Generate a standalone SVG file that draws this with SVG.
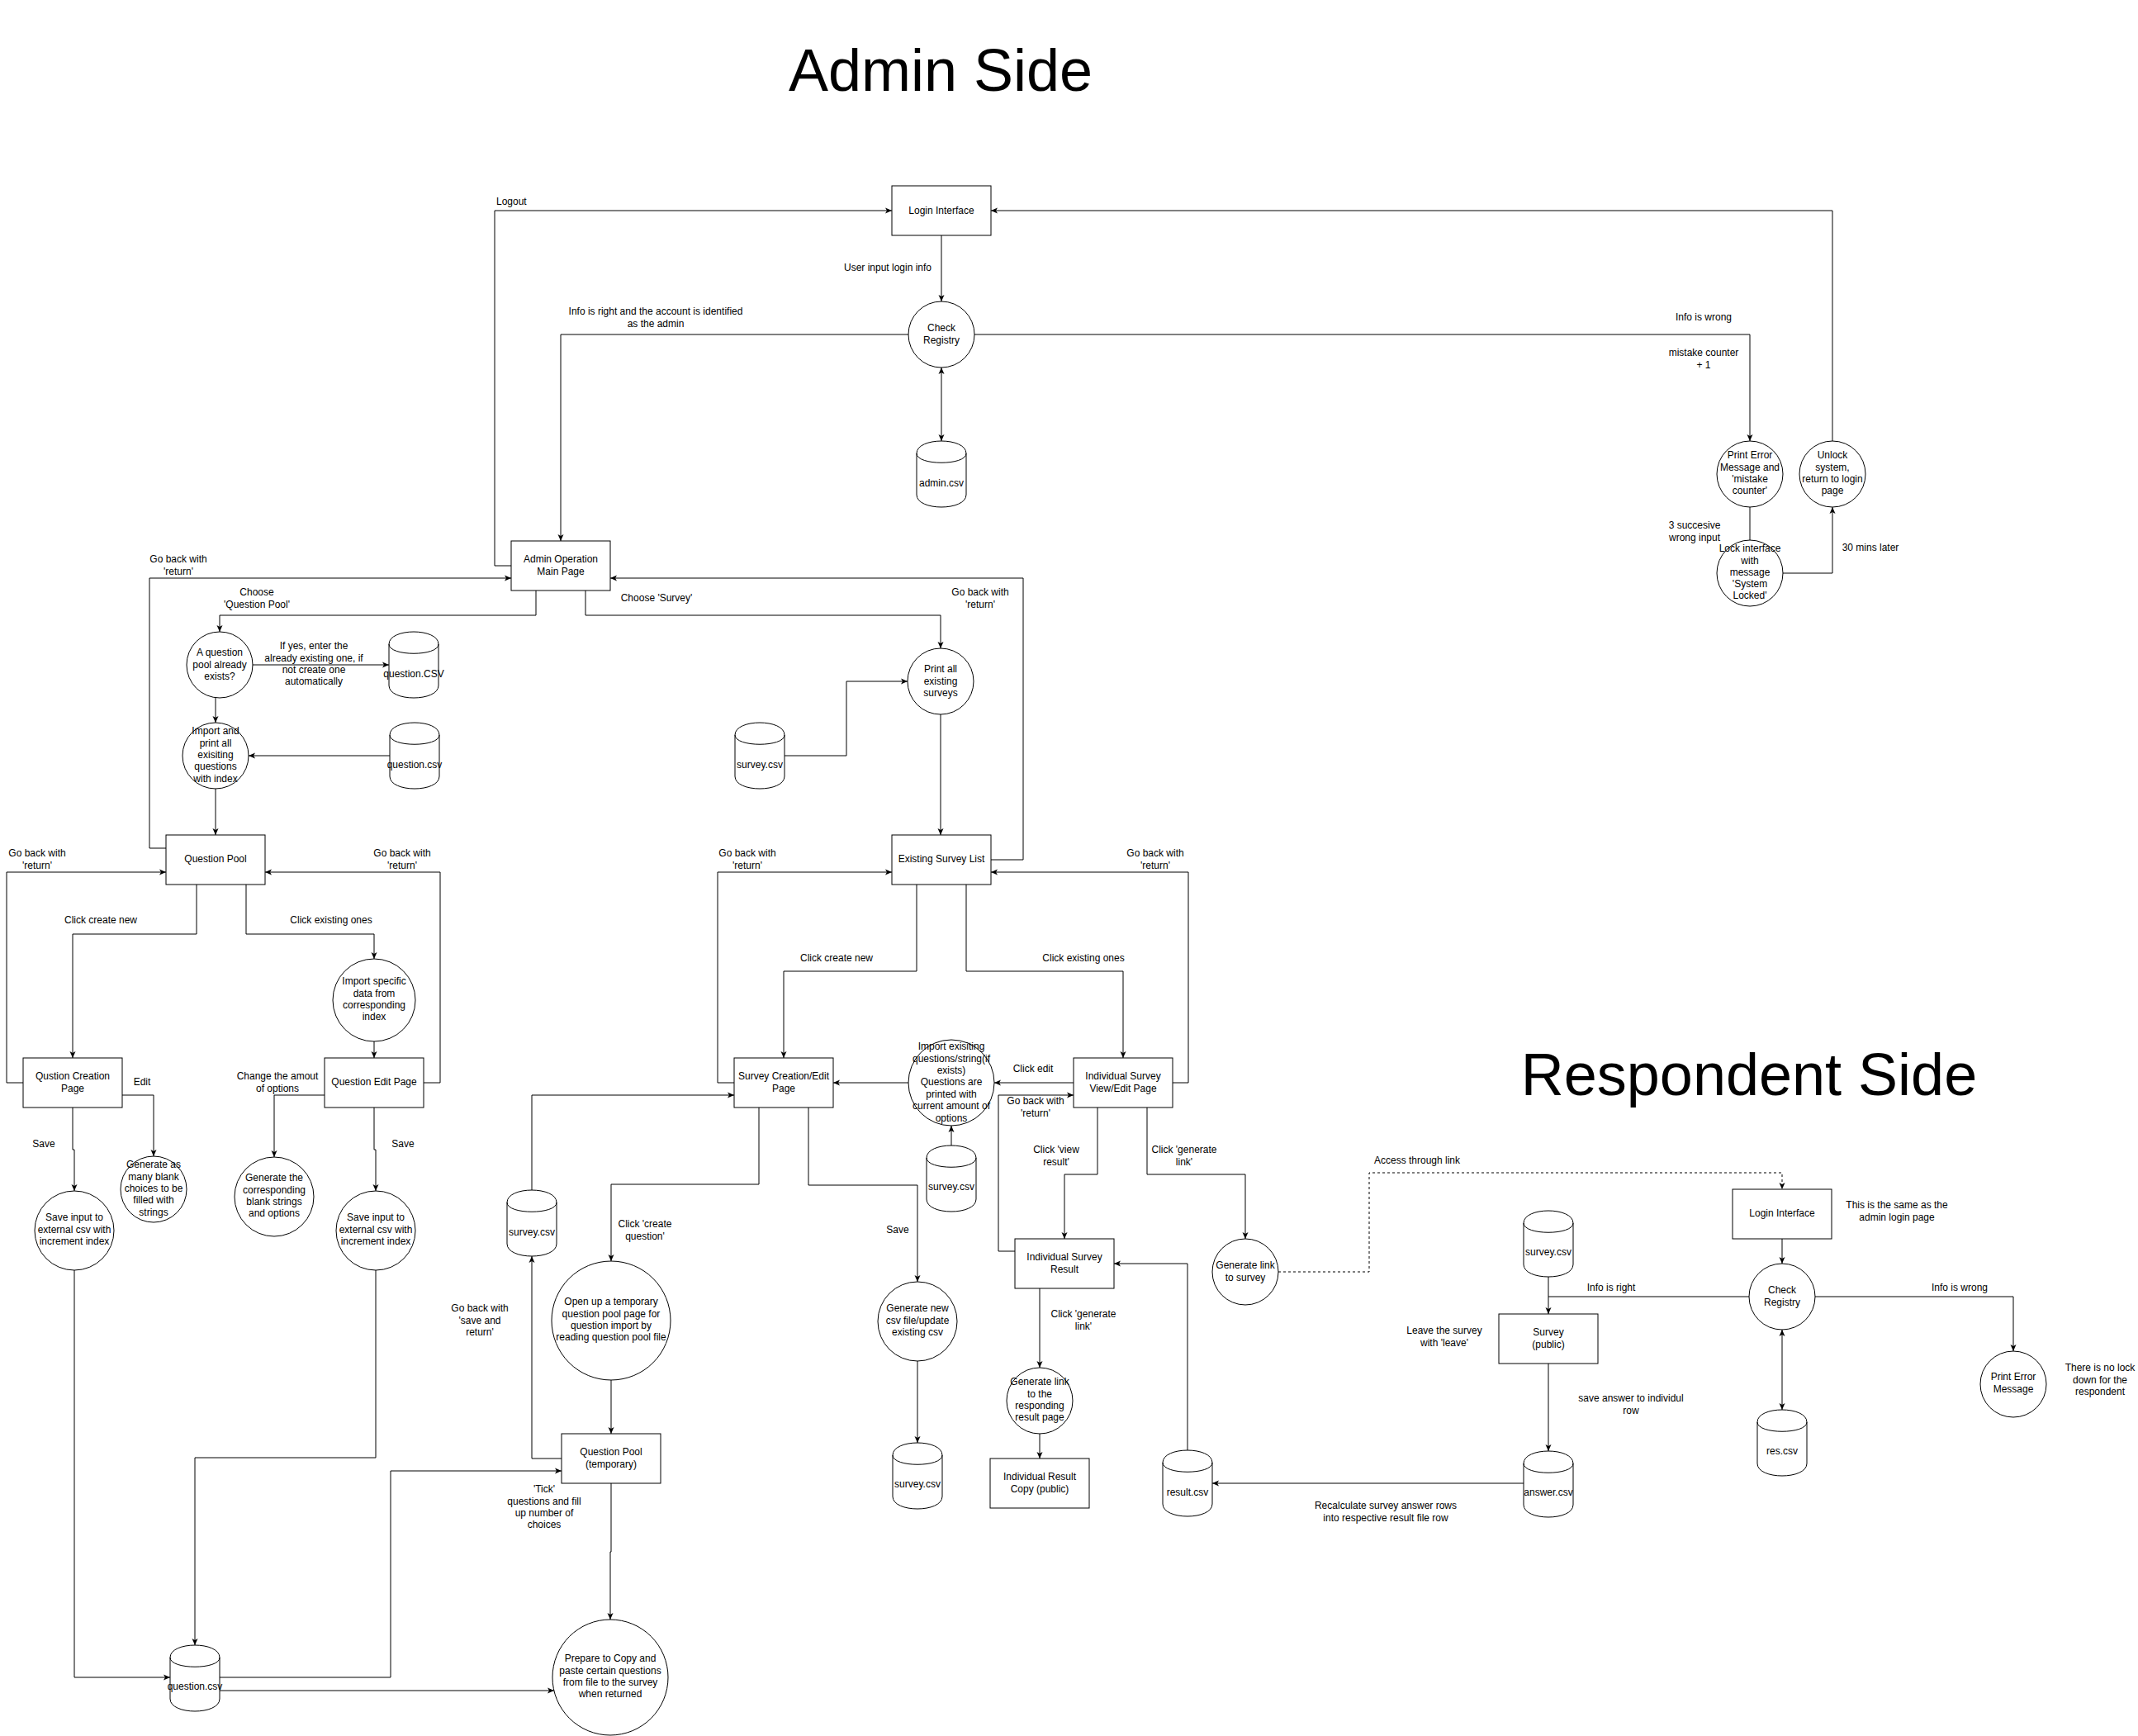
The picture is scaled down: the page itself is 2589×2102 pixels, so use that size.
<svg xmlns="http://www.w3.org/2000/svg" width="2589" height="2102" viewBox="0 0 2589 2102">
<style>
.n{fill:#fff;stroke:#000;stroke-width:1}
.e{fill:none;stroke:#000;stroke-width:1;marker-end:url(#a)}
.l{fill:none;stroke:#000;stroke-width:1}
.d{fill:none;stroke:#000;stroke-width:1;stroke-dasharray:3,3;marker-end:url(#a)}
.b{marker-start:url(#a)}
text{font-family:"Liberation Sans",Arial,sans-serif;font-size:12px;fill:#000;text-anchor:middle}
.t{font-size:72px}
.s{text-anchor:start}
</style>
<defs>
<marker id="a" viewBox="0 0 8 8" refX="8" refY="4" markerWidth="8" markerHeight="8" markerUnits="userSpaceOnUse" orient="auto-start-reverse"><path d="M0,0.5 L8,4 L0,7.5 L2,4 Z" fill="#000"/></marker>
</defs>
<rect width="2589" height="2102" fill="#fff"/>
<text class="t" x="1139" y="110">Admin Side</text>
<text class="t" x="2118" y="1326">Respondent Side</text>

<g id="connectors">
<path class="e" d="M1140,285 V365"/>
<path class="e b" d="M1140,445 V534"/>
<path class="e" d="M1100,405 H679 V655"/>
<path class="e" d="M619,685 H599 V255 H1080"/>
<path class="e" d="M1180,405 H2119 V534"/>
<path class="l" d="M2119,614 V654"/>
<path class="e" d="M2159,694 H2219 V614"/>
<path class="e" d="M2219,534 V255 H1200"/>
<path class="e" d="M201,1027 H181 V700 H619"/>
<path class="e" d="M649,715 V745 H266 V765"/>
<path class="e" d="M709,715 V745 H1139 V785"/>
<path class="e" d="M1200,1041 H1239 V700 H739"/>
<path class="e" d="M306,805 H471"/>
<path class="e" d="M261,845 V875"/>
<path class="e" d="M472,915 H301"/>
<path class="e" d="M261,955 V1011"/>
<path class="e" d="M28,1311 H8 V1056 H201"/>
<path class="e" d="M513,1311 H533 V1056 H321"/>
<path class="e" d="M238,1071 V1131 H88 V1281"/>
<path class="e" d="M298,1071 V1131 H453 V1161"/>
<path class="e" d="M453,1261 V1281"/>
<path class="e" d="M148,1326 H186 V1400"/>
<path class="e" d="M88,1341 V1392 H90 V1442"/>
<path class="e" d="M393,1326 H332 V1401"/>
<path class="e" d="M453,1341 V1392 H455 V1442"/>
<path class="e" d="M90,1538 V2031 H206"/>
<path class="e" d="M455,1538 V1765 H236 V1992"/>
<path class="e" d="M266,2031 H473 V1781 H680"/>
<path class="e" d="M266,2047 H671"/>
<path class="e" d="M680,1766 H644 V1521"/>
<path class="e" d="M644,1441 V1326 H889"/>
<path class="e" d="M740,1796 V1879 H739 V1961"/>
<path class="e" d="M740,1671 V1736"/>
<path class="e" d="M919,1341 V1434 H740 V1527"/>
<path class="e" d="M979,1341 V1435 H1111 V1552"/>
<path class="e" d="M1111,1648 V1747"/>
<path class="e" d="M1139,865 V1011"/>
<path class="e" d="M950,915 H1025 V825 H1099"/>
<path class="e" d="M889,1311 H869 V1056 H1080"/>
<path class="e" d="M1110,1071 V1176 H949 V1281"/>
<path class="e" d="M1170,1071 V1176 H1360 V1281"/>
<path class="e" d="M1420,1311 H1439 V1056 H1200"/>
<path class="e" d="M1300,1311 H1204"/>
<path class="e" d="M1100,1311 H1009"/>
<path class="e" d="M1152,1387 V1363"/>
<path class="e" d="M1229,1515 H1209 V1326 H1300"/>
<path class="e" d="M1329,1341 V1422 H1289 V1500"/>
<path class="e" d="M1389,1341 V1422 H1508 V1500"/>
<path class="e" d="M1259,1560 V1656"/>
<path class="e" d="M1259,1736 V1766"/>
<path class="e" d="M1438,1756 V1530 H1349"/>
<path class="e" d="M1845,1796 H1468"/>
<path class="d" d="M1548,1540 H1658 V1420 H2158 V1440"/>
<path class="e" d="M2158,1500 V1530"/>
<path class="e b" d="M2158,1610 V1707"/>
<path class="e" d="M2118,1570 H1875 V1591"/>
<path class="l" d="M1875,1546 V1570"/>
<path class="e" d="M1875,1651 V1757"/>
<path class="e" d="M2198,1570 H2438 V1636"/>
</g>

<g id="edge-labels">
<text class="s" x="601" y="248">Logout</text>
<text x="1075" y="328">User input login info</text>
<text x="794" y="381">Info is right and the account is identified</text>
<text x="794" y="396">as the admin</text>
<text x="2063" y="388">Info is wrong</text>
<text x="2063" y="431">mistake counter</text>
<text x="2063" y="446">+ 1</text>
<text x="2052" y="640">3 succesive</text>
<text x="2052" y="655">wrong input</text>
<text x="2265" y="667">30 mins later</text>
<text x="216" y="681">Go back with</text>
<text x="216" y="696">'return'</text>
<text x="311" y="721">Choose</text>
<text x="311" y="736">'Question Pool'</text>
<text x="795" y="728">Choose 'Survey'</text>
<text x="1187" y="721">Go back with</text>
<text x="1187" y="736">'return'</text>
<text x="380" y="786">If yes, enter the</text>
<text x="380" y="801">already existing one, if</text>
<text x="380" y="815">not create one</text>
<text x="380" y="829">automatically</text>
<text x="45" y="1037">Go back with</text>
<text x="45" y="1052">'return'</text>
<text x="487" y="1037">Go back with</text>
<text x="487" y="1052">'return'</text>
<text x="122" y="1118">Click create new</text>
<text x="401" y="1118">Click existing ones</text>
<text x="172" y="1314">Edit</text>
<text x="336" y="1307">Change the amout</text>
<text x="336" y="1322">of options</text>
<text x="53" y="1389">Save</text>
<text x="488" y="1389">Save</text>
<text x="905" y="1037">Go back with</text>
<text x="905" y="1052">'return'</text>
<text x="1399" y="1037">Go back with</text>
<text x="1399" y="1052">'return'</text>
<text x="1013" y="1164">Click create new</text>
<text x="1312" y="1164">Click existing ones</text>
<text x="1251" y="1298">Click edit</text>
<text x="1254" y="1337">Go back with</text>
<text x="1254" y="1352">'return'</text>
<text x="1279" y="1396">Click 'view</text>
<text x="1279" y="1411">result'</text>
<text x="1434" y="1396">Click 'generate</text>
<text x="1434" y="1411">link'</text>
<text x="781" y="1486">Click 'create</text>
<text x="781" y="1501">question'</text>
<text x="1087" y="1493">Save</text>
<text x="581" y="1588">Go back with</text>
<text x="581" y="1603">'save and</text>
<text x="581" y="1617">return'</text>
<text x="1312" y="1595">Click 'generate</text>
<text x="1312" y="1610">link'</text>
<text x="1716" y="1409">Access through link</text>
<text x="659" y="1807">'Tick'</text>
<text x="659" y="1822">questions and fill</text>
<text x="659" y="1836">up number of</text>
<text x="659" y="1850">choices</text>
<text x="1678" y="1827">Recalculate survey answer rows</text>
<text x="1678" y="1842">into respective result file row</text>
<text x="2297" y="1463">This is the same as the</text>
<text x="2297" y="1478">admin login page</text>
<text x="1951" y="1563">Info is right</text>
<text x="2373" y="1563">Info is wrong</text>
<text x="1749" y="1615">Leave the survey</text>
<text x="1749" y="1630">with 'leave'</text>
<text x="1975" y="1697">save answer to individul</text>
<text x="1975" y="1712">row</text>
<text x="2543" y="1660">There is no lock</text>
<text x="2543" y="1675">down for the</text>
<text x="2543" y="1689">respondent</text>
</g>

<g id="login-admin"><rect class="n" x="1080" y="225" width="120" height="60"/><text x="1140" y="259">Login Interface</text></g>
<g id="check-registry-admin"><circle class="n" cx="1140" cy="405" r="40"/><text x="1140" y="401">Check</text><text x="1140" y="416">Registry</text></g>
<g id="admin-csv"><path class="n" d="M1110,549 C1110,529 1170,529 1170,549 L1170,599 C1170,619 1110,619 1110,599 Z M1110,549 C1110,564 1170,564 1170,549"/><text x="1140" y="589">admin.csv</text></g>
<g id="admin-main"><rect class="n" x="619" y="655" width="120" height="60"/><text x="679" y="681">Admin Operation</text><text x="679" y="696">Main Page</text></g>
<g id="print-error-admin"><circle class="n" cx="2119" cy="574" r="40"/><text x="2119" y="555">Print Error</text><text x="2119" y="570">Message and</text><text x="2119" y="584">'mistake</text><text x="2119" y="598">counter'</text></g>
<g id="unlock"><circle class="n" cx="2219" cy="574" r="40"/><text x="2219" y="555">Unlock</text><text x="2219" y="570">system,</text><text x="2219" y="584">return to login</text><text x="2219" y="598">page</text></g>
<g id="lock"><circle class="n" cx="2119" cy="694" r="40"/><text x="2119" y="668">Lock interface</text><text x="2119" y="683">with</text><text x="2119" y="697">message</text><text x="2119" y="711">'System</text><text x="2119" y="725">Locked'</text></g>
<g id="pool-exists"><circle class="n" cx="266" cy="805" r="40"/><text x="266" y="794">A question</text><text x="266" y="809">pool already</text><text x="266" y="823">exists?</text></g>
<g id="question-csv-1"><path class="n" d="M471,780 C471,760 531,760 531,780 L531,830 C531,850 471,850 471,830 Z M471,780 C471,795 531,795 531,780"/><text x="501" y="820">question.CSV</text></g>
<g id="import-print"><circle class="n" cx="261" cy="915" r="40"/><text x="261" y="889">Import and</text><text x="261" y="904">print all</text><text x="261" y="918">exisiting</text><text x="261" y="932">questions</text><text x="261" y="947">with index</text></g>
<g id="question-csv-2"><path class="n" d="M472,890 C472,870 532,870 532,890 L532,940 C532,960 472,960 472,940 Z M472,890 C472,905 532,905 532,890"/><text x="502" y="930">question.csv</text></g>
<g id="question-pool"><rect class="n" x="201" y="1011" width="120" height="60"/><text x="261" y="1044">Question Pool</text></g>
<g id="question-creation"><rect class="n" x="28" y="1281" width="120" height="60"/><text x="88" y="1307">Qustion Creation</text><text x="88" y="1322">Page</text></g>
<g id="import-specific"><circle class="n" cx="453" cy="1211" r="50"/><text x="453" y="1192">Import specific</text><text x="453" y="1207">data from</text><text x="453" y="1221">corresponding</text><text x="453" y="1235">index</text></g>
<g id="question-edit"><rect class="n" x="393" y="1281" width="120" height="60"/><text x="453" y="1314">Question Edit Page</text></g>
<g id="generate-blank"><circle class="n" cx="186" cy="1440" r="40"/><text x="186" y="1414">Generate as</text><text x="186" y="1429">many blank</text><text x="186" y="1443">choices to be</text><text x="186" y="1457">filled with</text><text x="186" y="1472">strings</text></g>
<g id="save-input-1"><circle class="n" cx="90" cy="1490" r="48"/><text x="90" y="1478">Save input to</text><text x="90" y="1493">external csv with</text><text x="90" y="1507">increment index</text></g>
<g id="generate-corresponding"><circle class="n" cx="332" cy="1449" r="48"/><text x="332" y="1430">Generate the</text><text x="332" y="1445">corresponding</text><text x="332" y="1459">blank strings</text><text x="332" y="1473">and options</text></g>
<g id="save-input-2"><circle class="n" cx="455" cy="1490" r="48"/><text x="455" y="1478">Save input to</text><text x="455" y="1493">external csv with</text><text x="455" y="1507">increment index</text></g>
<g id="print-surveys"><circle class="n" cx="1139" cy="825" r="40"/><text x="1139" y="814">Print all</text><text x="1139" y="829">existing</text><text x="1139" y="843">surveys</text></g>
<g id="survey-csv-1"><path class="n" d="M890,890 C890,870 950,870 950,890 L950,940 C950,960 890,960 890,940 Z M890,890 C890,905 950,905 950,890"/><text x="920" y="930">survey.csv</text></g>
<g id="existing-survey-list"><rect class="n" x="1080" y="1011" width="120" height="60"/><text x="1140" y="1044">Existing Survey List</text></g>
<g id="survey-creation"><rect class="n" x="889" y="1281" width="120" height="60"/><text x="949" y="1307">Survey Creation/Edit</text><text x="949" y="1322">Page</text></g>
<g id="import-existing"><circle class="n" cx="1152" cy="1311" r="52"/><text x="1152" y="1271">Import exisiting</text><text x="1152" y="1286">questions/string(if</text><text x="1152" y="1300">exists)</text><text x="1152" y="1314">Questions are</text><text x="1152" y="1329">printed with</text><text x="1152" y="1343">current amount of</text><text x="1152" y="1358">options</text></g>
<g id="individual-survey-view"><rect class="n" x="1300" y="1281" width="120" height="60"/><text x="1360" y="1307">Individual Survey</text><text x="1360" y="1322">View/Edit Page</text></g>
<g id="survey-csv-2"><path class="n" d="M1122,1402 C1122,1382 1182,1382 1182,1402 L1182,1452 C1182,1472 1122,1472 1122,1452 Z M1122,1402 C1122,1417 1182,1417 1182,1402"/><text x="1152" y="1441">survey.csv</text></g>
<g id="survey-csv-3"><path class="n" d="M614,1456 C614,1436 674,1436 674,1456 L674,1506 C674,1526 614,1526 614,1506 Z M614,1456 C614,1471 674,1471 674,1456"/><text x="644" y="1496">survey.csv</text></g>
<g id="open-temp-pool"><circle class="n" cx="740" cy="1599" r="72"/><text x="740" y="1580">Open up a temporary</text><text x="740" y="1595">question pool page for</text><text x="740" y="1609">question import by</text><text x="740" y="1623">reading question pool file</text></g>
<g id="generate-new-csv"><circle class="n" cx="1111" cy="1600" r="48"/><text x="1111" y="1588">Generate new</text><text x="1111" y="1603">csv file/update</text><text x="1111" y="1617">existing csv</text></g>
<g id="survey-csv-4"><path class="n" d="M1081,1762 C1081,1742 1141,1742 1141,1762 L1141,1812 C1141,1832 1081,1832 1081,1812 Z M1081,1762 C1081,1777 1141,1777 1141,1762"/><text x="1111" y="1801">survey.csv</text></g>
<g id="individual-survey-result"><rect class="n" x="1229" y="1500" width="120" height="60"/><text x="1289" y="1526">Individual Survey</text><text x="1289" y="1541">Result</text></g>
<g id="generate-link-survey"><circle class="n" cx="1508" cy="1540" r="40"/><text x="1508" y="1536">Generate link</text><text x="1508" y="1551">to survey</text></g>
<g id="generate-link-result"><circle class="n" cx="1259" cy="1696" r="40"/><text x="1259" y="1677">Generate link</text><text x="1259" y="1692">to the</text><text x="1259" y="1706">responding</text><text x="1259" y="1720">result page</text></g>
<g id="result-copy"><rect class="n" x="1199" y="1766" width="120" height="60"/><text x="1259" y="1792">Individual Result</text><text x="1259" y="1807">Copy (public)</text></g>
<g id="result-csv"><path class="n" d="M1408,1771 C1408,1751 1468,1751 1468,1771 L1468,1821 C1468,1841 1408,1841 1408,1821 Z M1408,1771 C1408,1786 1468,1786 1468,1771"/><text x="1438" y="1811">result.csv</text></g>
<g id="question-pool-temp"><rect class="n" x="680" y="1736" width="120" height="60"/><text x="740" y="1762">Question Pool</text><text x="740" y="1777">(temporary)</text></g>
<g id="question-csv-3"><path class="n" d="M206,2007 C206,1987 266,1987 266,2007 L266,2057 C266,2077 206,2077 206,2057 Z M206,2007 C206,2022 266,2022 266,2007"/><text x="236" y="2046">question.csv</text></g>
<g id="prepare-copy"><circle class="n" cx="739" cy="2031" r="70"/><text x="739" y="2012">Prepare to Copy and</text><text x="739" y="2027">paste certain questions</text><text x="739" y="2041">from file to the survey</text><text x="739" y="2055">when returned</text></g>

<g id="login-respondent"><rect class="n" x="2098" y="1440" width="120" height="60"/><text x="2158" y="1473">Login Interface</text></g>
<g id="check-registry-respondent"><circle class="n" cx="2158" cy="1570" r="40"/><text x="2158" y="1566">Check</text><text x="2158" y="1581">Registry</text></g>
<g id="res-csv"><path class="n" d="M2128,1722 C2128,1702 2188,1702 2188,1722 L2188,1772 C2188,1792 2128,1792 2128,1772 Z M2128,1722 C2128,1737 2188,1737 2188,1722"/><text x="2158" y="1761">res.csv</text></g>
<g id="survey-csv-5"><path class="n" d="M1845,1481 C1845,1461 1905,1461 1905,1481 L1905,1531 C1905,1551 1845,1551 1845,1531 Z M1845,1481 C1845,1496 1905,1496 1905,1481"/><text x="1875" y="1520">survey.csv</text></g>
<g id="survey-public"><rect class="n" x="1815" y="1591" width="120" height="60"/><text x="1875" y="1617">Survey</text><text x="1875" y="1632">(public)</text></g>
<g id="answer-csv"><path class="n" d="M1845,1772 C1845,1752 1905,1752 1905,1772 L1905,1822 C1905,1842 1845,1842 1845,1822 Z M1845,1772 C1845,1787 1905,1787 1905,1772"/><text x="1875" y="1811">answer.csv</text></g>
<g id="print-error-respondent"><circle class="n" cx="2438" cy="1676" r="40"/><text x="2438" y="1671">Print Error</text><text x="2438" y="1686">Message</text></g>
</svg>
